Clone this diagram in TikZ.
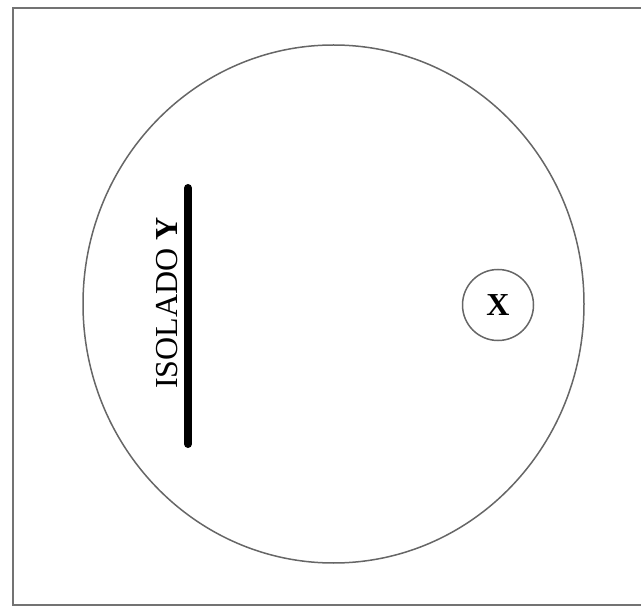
\documentclass[tikz,border=0pt]{standalone}
\usepackage{fontspec}
\setmainfont{Liberation Serif}
\usetikzlibrary{shapes.geometric}

\begin{document}
\begin{tikzpicture}[x=1pt,y=-1pt]
    \pgfmathsetmacro{\cx}{333.5}
    \pgfmathsetmacro{\cy}{304}
    \tikzset{every node/.style={inner sep=0pt}}
    \tikzset{ring/.style={draw=black!60,line width=1.5pt}}
    \useasboundingbox (0,0) rectangle (641,615);
    \draw[draw=black!55,line width=1.8pt] (13,8) rectangle (660,605);
    \node[ring,ellipse,minimum width=501pt,minimum height=518pt] (world) at (\cx,\cy) {};
    \node[ring,circle,minimum size=71pt,font=\fontsize{32}{34}\selectfont\bfseries] (X) at (498,305) {X};
    \coordinate (ytop) at (188,188);
    \coordinate (ybot) at (188,444);
    \draw[line width=8pt,line cap=round] (ytop) -- (ybot);
    \node[rotate=90,anchor=south,font=\fontsize{32}{34}\selectfont] (isolado) at (178,303) {ISOLADO \textbf{Y}};
\end{tikzpicture}
\end{document}
